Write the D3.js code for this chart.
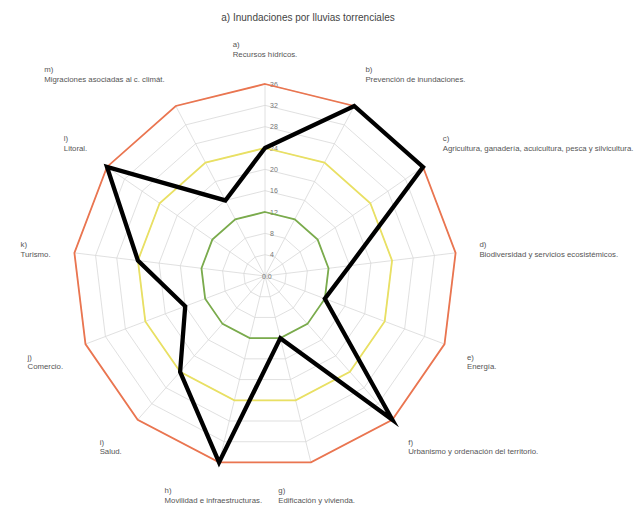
<!DOCTYPE html>
<html>
<head>
<meta charset="utf-8">
<script src="https://cdn.jsdelivr.net/npm/d3@7"></script>
<style>
  body { margin: 0; background: #fff; }
  svg { display: block; font-family: "Liberation Sans", Arial, sans-serif; }
</style>
</head>
<body>
<div id="chart"></div>
<script>
const title = "a) Inundaciones por lluvias torrenciales";
const axisKeys = ["a)", "b)", "c)", "d)", "e)", "f)", "g)", "h)", "i)", "j)", "k)", "l)", "m)"];
const axisNames = [
  "Recursos hídricos.",
  "Prevención de inundaciones.",
  "Agricultura, ganadería, acuicultura, pesca y silvicultura.",
  "Biodiversidad y servicios ecosistémicos.",
  "Energía.",
  "Urbanismo y ordenación del territorio.",
  "Edificación y vivienda.",
  "Movilidad e infraestructuras.",
  "Salud.",
  "Comercio.",
  "Turismo.",
  "Litoral.",
  "Migraciones asociadas al c. climát."
];
const values = [24, 36, 36, 16, 12, 36, 12, 36, 24, 16, 24, 36, 16];
const tickValues = [0, 4, 8, 12, 16, 20, 24, 28, 32, 36];
const tickLabels = ["0.0", "4", "8", "12", "16", "20", "24", "28", "32", "36"];
const thresholds = [12, 24, 36];
const thresholdColors = ["#7aab4c", "#e9e063", "#ea7550"];

const width = 637, height = 515;
const cx = 265, cy = 276;
const radius = 192;

const svg = d3.select("#chart").append("svg")
  .attr("width", width)
  .attr("height", height);

svg.append("text")
  .attr("x", 308)
  .attr("y", 21)
  .attr("text-anchor", "middle")
  .attr("font-size", 10)
  .attr("fill", "#444")
  .text(title);

const g = svg.append("g").attr("transform", `translate(${cx},${cy})`);

const r = d3.scaleLinear().domain([0, 36]).range([0, radius]);
const angle = d3.scaleLinear().domain([0, axisKeys.length]).range([0, 2 * Math.PI]);

const ring = d3.lineRadial()
  .angle((d, i) => angle(i))
  .radius(d => r(d))
  .curve(d3.curveLinearClosed);

// grid rings
g.selectAll(".grid-ring")
  .data(tickValues.slice(1))
  .enter()
  .append("path")
  .attr("class", "grid-ring")
  .attr("d", v => ring(axisKeys.map(() => v)))
  .attr("fill", "none")
  .attr("stroke", "#d8d8d8")
  .attr("stroke-width", 0.8);

// spokes
g.selectAll(".spoke")
  .data(axisKeys)
  .enter()
  .append("line")
  .attr("class", "spoke")
  .attr("x1", 0).attr("y1", 0)
  .attr("x2", (d, i) => r(36) * Math.sin(angle(i)))
  .attr("y2", (d, i) => -r(36) * Math.cos(angle(i)))
  .attr("stroke", "#d8d8d8")
  .attr("stroke-width", 0.8);

// tick labels along first axis
g.selectAll(".tick-label")
  .data(tickValues)
  .enter()
  .append("text")
  .attr("class", "tick-label")
  .attr("x", (d, i) => i === 0 ? -3 : 5)
  .attr("y", d => -r(d) + 2.5)
  .attr("font-size", 7)
  .attr("fill", "#777")
  .text((d, i) => tickLabels[i]);

// threshold rings
g.selectAll(".threshold")
  .data(thresholds)
  .enter()
  .append("path")
  .attr("class", "threshold")
  .attr("d", v => ring(axisKeys.map(() => v)))
  .attr("fill", "none")
  .attr("stroke", (d, i) => thresholdColors[i])
  .attr("stroke-width", 1.8);

// data polygon
g.append("path")
  .attr("d", ring(values))
  .attr("fill", "none")
  .attr("stroke", "#000")
  .attr("stroke-width", 4.3)
  .attr("stroke-linejoin", "miter")
  .attr("stroke-miterlimit", 10);

// axis labels
const labelR = radius * 1.125;
const lineH = 9.8;
axisKeys.forEach((key, i) => {
  const a = angle(i);
  const s = Math.sin(a), c = Math.cos(a);
  const px = labelR * s, py = -labelR * c;
  const t = g.append("text")
    .attr("font-size", 7.8)
    .attr("fill", "#555");
  const t1 = t.append("tspan").text(key);
  const t2 = t.append("tspan").text(axisNames[i]);
  const w = Math.max(t1.node().getComputedTextLength(), t2.node().getComputedTextLength());
  let x = px - w / 2;
  if (s > 0.3) x = px;
  if (s < -0.3) x = px - w;
  const h = lineH * 2;
  let top = py - h / 2;
  if (c > 0.3) top = py - h;
  if (c < -0.3) top = py;
  t1.attr("x", x).attr("y", top + 7);
  t2.attr("x", x).attr("y", top + 7 + lineH);
});
</script>
</body>
</html>
